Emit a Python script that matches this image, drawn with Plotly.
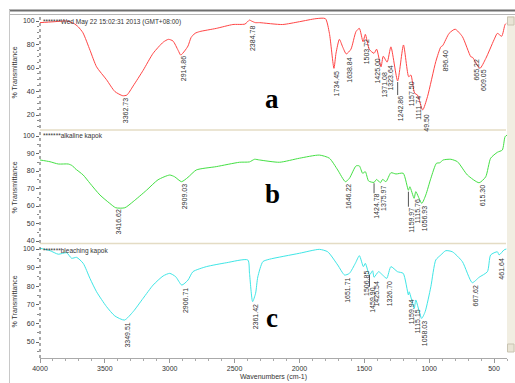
import plotly.graph_objects as go

# ---------------- data ----------------
wn_a = [4000, 3900, 3795, 3740, 3705, 3669, 3614, 3564, 3487, 3423, 3362, 3330, 3282, 3205, 3128, 3050, 3010,
        2975, 2935, 2915, 2885, 2859, 2835, 2805, 2769, 2641, 2513, 2420, 2385, 2370, 2340, 2308, 2131, 2000,
        1872, 1800, 1769, 1734, 1718, 1692, 1667, 1639, 1603, 1564, 1538, 1510, 1492, 1462, 1425, 1405, 1371,
        1354, 1324, 1295, 1243, 1198, 1158, 1141, 1112, 1090, 1050, 1013, 949, 910, 896, 846, 800, 744, 679,
        665, 609, 564, 500, 474, 441, 415, 405]
t_a = [98.6, 99.3, 100, 98, 95, 90, 75, 61, 50, 40, 36.4, 37, 44.7, 58, 72.5, 82, 84.4,
       83, 75, 71, 74.5, 78.7, 86, 89.5, 91, 93.7, 97, 97.4, 100.8, 100, 98.6, 98.6, 97, 99.4,
       102, 102, 89.5, 59.7, 72.7, 84.4, 78, 72, 76, 91, 93.7, 82.4, 88.6, 76, 72.5, 76, 61,
       70, 65, 78, 49, 79.6, 52.6, 54, 38.5, 37, 24.3, 35.6, 65.4, 78, 79, 89.5, 93, 86.7, 69.6,
       69, 59.7, 68, 84, 89.5, 87, 97, 98]

wn_b = [4000, 3923, 3859, 3782, 3750, 3731, 3667, 3615, 3538, 3462, 3416, 3346, 3282, 3179, 3090, 3000, 2962,
        2909, 2859, 2795, 2641, 2462, 2385, 2346, 2308, 2154, 2000, 1846, 1769, 1705, 1646, 1615, 1564, 1538,
        1513, 1492, 1467, 1425, 1405, 1376, 1359, 1333, 1295, 1256, 1200, 1160, 1149, 1116, 1103, 1057, 1026,
        987, 944, 918, 892, 833, 782, 705, 615, 564, 526, 474, 436, 415, 400]
t_b = [86.3, 85.3, 84, 84, 83, 81.5, 77.7, 73, 66.3, 61.5, 59, 59, 62.5, 69, 75, 77.7, 76.7,
       73.9, 76.4, 80.6, 82.5, 85, 85.2, 86.7, 86.3, 85, 87.3, 89.1, 87.3, 80.6, 73.9, 75.8, 82.9, 82.9,
       78.7, 79.6, 74.3, 73.5, 75.2, 73.3, 75.2, 73.9, 79, 78.3, 78.7, 69, 71, 64.4, 68.2, 61.5, 66.3,
       75.8, 84.4, 84.7, 86.3, 86.7, 85.3, 77.7, 73.3, 76.7, 87.3, 90.7, 92, 99.6, 100.5]

wn_c = [4000, 3923, 3859, 3795, 3756, 3718, 3667, 3615, 3564, 3487, 3423, 3349, 3282, 3205, 3128, 3051, 3000,
        2954, 2907, 2859, 2821, 2718, 2564, 2398, 2385, 2361, 2338, 2321, 2282, 2231, 2000, 1846, 1782, 1705,
        1652, 1615, 1569, 1538, 1507, 1492, 1460, 1436, 1425, 1390, 1359, 1327, 1295, 1244, 1200, 1160, 1154,
        1115, 1103, 1058, 1031, 987, 949, 910, 872, 821, 744, 668, 615, 551, 526, 474, 461, 423, 405]
t_c = [100.4, 99.1, 97.2, 98, 95, 95.5, 92.3, 84.2, 77, 69, 64, 61.8, 66.3, 73.5, 80.6, 85.5, 86.9,
       85.1, 80.6, 83.3, 87.8, 90.5, 92.6, 94.1, 86.9, 71.7, 76.2, 85, 93.2, 94.5, 97.7, 99.8, 98.5, 91.4,
       86, 86.9, 92.3, 96.4, 90.5, 92.3, 86, 88.3, 84.8, 87.8, 86, 84.2, 90.5, 87.8, 86.9, 75.3, 77,
       68.1, 72.6, 62.7, 66.3, 79.7, 94.1, 96.8, 99.1, 98.5, 93.2, 81.9, 84.8, 87.8, 96.8, 98.5, 96.8, 99.5, 100]

# peak labels: wavenumber, displayed text, %T where label starts
peak_a_wn = [3362.73, 2914.86, 2384.78, 1734.45, 1638.84, 1503.72, 1425.00, 1371.08, 1323.64, 1242.86,
             1157.50, 1111.74, 1049.50, 896.40, 665.22, 609.05]
peak_a_txt = ["3362.73", "2914.86", "2384.78", "1734.45", "1638.84", "1503.72", "1425.00", "1371.08",
              "1323.64", "1242.86", "1157.50", "1111.74", "49.50", "896.40", "665.22", "609.05"]
peak_a_t = [35.3, 71.1, 96.6, 58.3, 69.4, 85.5, 68.5, 56.6, 62.6, 37.0, 49.8, 37.0, 21.7, 76.2, 68.5, 60.0]

peak_b_wn = [3416.62, 2909.03, 1646.22, 1424.78, 1375.97, 1159.97, 1115.76, 1056.93, 615.30]
peak_b_txt = ["3416.62", "2909.03", "1646.22", "1424.78", "1375.97", "1159.97", "1115.76", "1056.93", "615.30"]
peak_b_t = [58.7, 73.0, 73.0, 67.3, 72.0, 59.6, 64.4, 60.6, 73.0]

peak_c_wn = [3349.51, 2906.71, 2361.42, 1651.71, 1506.85, 1459.90, 1425.54, 1326.70, 1159.94, 1115.15,
             1058.03, 667.62, 461.64]
peak_c_txt = ["3349.51", "2906.71", "2361.42", "1651.71", "1506.85", "1459.90", "1425.54", "1326.70",
              "1159.94", "1115.15", "1058.03", "667.62", "461.64"]
peak_c_t = [60.9, 79.7, 70.8, 85.1, 88.7, 79.7, 83.3, 83.3, 73.5, 68.1, 61.8, 81.6, 95.9]

x_ticks = [4000, 3500, 3000, 2500, 2000, 1500, 1000, 500]
y_ticks_a = [20, 40, 60, 80, 100]
y_ticks_b = [40, 50, 60, 70, 80, 90, 100]
y_ticks_c = [50, 60, 70, 80, 90, 100]

titles = ["*******Wed May 22 15:02:31 2013 (GMT+08:00)", "*******alkaline kapok", "*******bleaching kapok"]
letters = ["a", "b", "c"]

# ---------------- layout helpers ----------------
W, H = 515, 383
PL, PR, PT, PB = 40, 507, 17, 358


def fx(px):
    return (px - PL) / (PR - PL)


def fy(py):
    return (PB - py) / (PB - PT)


FONT = "Liberation Sans, Arial, sans-serif"
TXT = "#333333"

fig = go.Figure()
cols = ["#ff4545", "#44e044", "#3fe6e6"]
for i, (xs, ys) in enumerate([(wn_a, t_a), (wn_b, t_b), (wn_c, t_c)]):
    sfx = "" if i == 0 else str(i + 1)
    fig.add_trace(go.Scatter(x=xs, y=ys, mode="lines", xaxis="x" + sfx, yaxis="y" + sfx,
                             line=dict(color=cols[i], width=1, shape="spline", smoothing=0.6),
                             hoverinfo="skip", showlegend=False))

xcommon = dict(range=[4000, 400], showgrid=False, zeroline=False)
yaxis_common = dict(showgrid=False, zeroline=False, ticks="outside", ticklen=3, tickcolor="#666",
                    tickfont=dict(family=FONT, size=7, color=TXT), showline=False,
                    minor=dict(ticks="outside", ticklen=2, tickcolor="#888"))

fig.update_layout(
    width=W, height=H, margin=dict(l=PL, r=W - PR, t=PT, b=H - PB),
    paper_bgcolor="white", plot_bgcolor="white",
    xaxis=dict(**xcommon, anchor="y", visible=False),
    xaxis2=dict(**xcommon, anchor="y2", visible=False),
    xaxis3=dict(**xcommon, anchor="y3", tickvals=x_ticks, ticks="outside", ticklen=4, tickcolor="#999",
                showline=True, linecolor="#aaaaaa", linewidth=1,
                tickfont=dict(family=FONT, size=7, color=TXT),
                minor=dict(dtick=100, ticks="outside", ticklen=2, tickcolor="#aaa")),
    yaxis=dict(**yaxis_common, domain=[fy(128), 1], range=[8.94, 103.4], tickvals=y_ticks_a),
    yaxis2=dict(**yaxis_common, domain=[fy(243), fy(132)], range=[38.86, 102.29], tickvals=y_ticks_b),
    yaxis3=dict(**yaxis_common, domain=[0, fy(245)], range=[41.4, 102.15], tickvals=y_ticks_c),
)

ann = []
shapes = []
lab_font = dict(family=FONT, size=7, color=TXT)
for i, (wns, txts, ts) in enumerate([(peak_a_wn, peak_a_txt, peak_a_t),
                                      (peak_b_wn, peak_b_txt, peak_b_t),
                                      (peak_c_wn, peak_c_txt, peak_c_t)]):
    sfx = "" if i == 0 else str(i + 1)
    for w, s, t in zip(wns, txts, ts):
        ann.append(dict(x=w, y=t, xref="x" + sfx, yref="y" + sfx, text=s, showarrow=False,
                        textangle=-90, xanchor="center", yanchor="top", xshift=3, font=lab_font,
                        borderpad=0))

# leader lines (pixel length above label)
for sfx, w, t, L in [("", 1242.86, 37.0, 13), ("2", 1424.78, 67.3, 10), ("2", 1159.97, 59.6, 15),
                     ("3", 1459.90, 79.7, 12)]:
    shapes.append(dict(type="line", xref="x" + sfx, yref="y" + sfx, x0=w, x1=w, xsizemode="scaled",
                       ysizemode="pixel", yanchor=t, y0=0, y1=L, line=dict(color="#555", width=1)))

# panel titles & letters & y titles
title_y = [22, 136, 251]
letter_y = [99, 194, 318]
panel_mid = [72.5, 187.5, 301.5]
for i in range(3):
    ann.append(dict(x=fx(41), y=fy(title_y[i]), xref="paper", yref="paper", text=titles[i],
                    showarrow=False, xanchor="left", yanchor="middle",
                    font=dict(family=FONT, size=6.5, color="#333")))
    ann.append(dict(x=fx(272), y=fy(letter_y[i]), xref="paper", yref="paper", text="<b>%s</b>" % letters[i],
                    showarrow=False, xanchor="center", yanchor="middle",
                    font=dict(family="Liberation Serif, Times New Roman, serif", size=27, color="black")))
    ann.append(dict(x=fx(14), y=fy(panel_mid[i]), xref="paper", yref="paper", text="% Transmittance",
                    showarrow=False, xanchor="center", yanchor="middle", textangle=-90,
                    font=dict(family=FONT, size=7, color=TXT)))

ann.append(dict(x=fx(273), y=fy(377), xref="paper", yref="paper", text="Wavenumbers (cm-1)",
                showarrow=False, xanchor="center", yanchor="middle", font=dict(family=FONT, size=7, color=TXT)))

# dotted y axis lines
for (y0, y1) in [(17, 128), (132, 243), (245, 358)]:
    shapes.append(dict(type="line", xref="paper", yref="paper", x0=0, x1=0, y0=fy(y1), y1=fy(y0),
                       line=dict(color="#555", width=1, dash="dot")))

# panel separators
for py in [130, 243.5]:
    shapes.append(dict(type="line", xref="paper", yref="paper", x0=0, x1=fx(506), y0=fy(py), y1=fy(py),
                       line=dict(color="#e4dcc4", width=1.5)))

# window chrome
shapes.append(dict(type="line", xref="paper", yref="paper", x0=fx(9), x1=fx(515), y0=fy(10.5), y1=fy(10.5),
                   line=dict(color="#6f6f6f", width=2)))
shapes.append(dict(type="line", xref="paper", yref="paper", x0=fx(9), x1=fx(515), y0=fy(14.5), y1=fy(14.5),
                   line=dict(color="#b5b5b5", width=1)))
shapes.append(dict(type="line", xref="paper", yref="paper", x0=fx(9.5), x1=fx(9.5), y0=fy(383), y1=fy(10),
                   line=dict(color="#c8c8c8", width=1)))
shapes.append(dict(type="rect", xref="paper", yref="paper", x0=fx(507), x1=fx(515), y0=fy(352), y1=fy(16),
                   fillcolor="#f1eee2", line=dict(width=0)))
for (a, b) in [(17, 25), (344, 352)]:
    shapes.append(dict(type="rect", xref="paper", yref="paper", x0=fx(507.5), x1=fx(514), y0=fy(b), y1=fy(a),
                       fillcolor="#e9e5d6", line=dict(color="#c9c4b2", width=1)))

fig.update_layout(annotations=ann, shapes=shapes)
fig.write_html("out.html")
